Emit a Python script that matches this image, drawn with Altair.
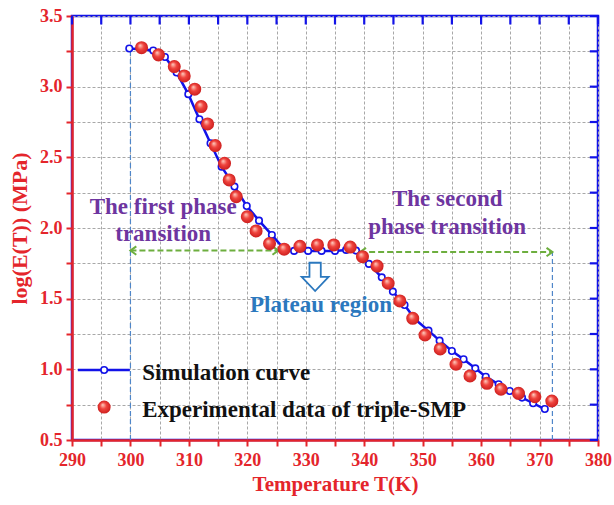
import altair as alt
import pandas as pd

# ---------------- data ----------------
sim_T = [299.8, 301.8, 303.9, 305.9, 307.9, 309.9, 311.8, 313.7, 315.6, 317.8,
         319.9, 322.0, 324.2, 326.1, 328.0, 330.4, 332.7, 335.0, 336.9, 338.6,
         340.8, 343.0, 344.9, 346.9, 348.7, 351.0, 352.9, 355.0, 357.0, 359.0,
         360.8, 363.0, 364.9, 367.0, 368.9, 370.9]
sim_v = [3.27, 3.265, 3.256, 3.21, 3.10, 2.947, 2.77, 2.60, 2.434, 2.293,
         2.156, 2.052, 1.951, 1.86, 1.838, 1.838, 1.838, 1.838, 1.845, 1.84,
         1.746, 1.651, 1.55, 1.455, 1.354, 1.274, 1.203, 1.13, 1.071, 1.007,
         0.948, 0.894, 0.847, 0.80, 0.76, 0.719]

exp_T = [301.9, 304.8, 307.5, 309.2, 311.0, 312.1, 313.2, 314.5, 316.1, 316.9,
         318.1, 320.0, 321.5, 323.8, 326.3, 329.0, 332.0, 334.8, 337.6, 339.7,
         342.2, 344.1, 346.1, 348.3, 350.4, 353.0, 355.7, 358.1, 361.0, 363.4,
         366.4, 369.2, 372.1]
exp_v = [3.276, 3.225, 3.142, 3.076, 2.982, 2.859, 2.736, 2.583, 2.458, 2.34,
         2.222, 2.08, 1.979, 1.89, 1.85, 1.87, 1.88, 1.88, 1.865, 1.797,
         1.731, 1.609, 1.484, 1.361, 1.243, 1.144, 1.036, 0.953, 0.901, 0.859,
         0.83, 0.806, 0.776]

x_ticks = [290, 295, 300, 305, 310, 315, 320, 325, 330, 335, 340, 345, 350,
           355, 360, 365, 370, 375, 380]
y_ticks = [0.5, 0.75, 1.0, 1.25, 1.5, 1.75, 2.0, 2.25, 2.5, 2.75, 3.0, 3.25, 3.5]

# annotation anchors (data units)
vline_T = [300.0, 372.2]
vline_top = [3.27, 1.83]
arrow_from = [300.0, 339.3]
arrow_to = [325.3, 372.2]
arrow_v = [1.84, 1.83]

labels_text = ["The first phase", "transition", "The second", "phase transition"]
labels_T = [305.6, 305.6, 354.2, 354.2]
labels_v = [2.149, 1.958, 2.206, 2.007]

plateau_text = ["Plateau region"]
plateau_T = [332.6]
plateau_v = [1.455]
plateau_arrow_T = [331.6]
plateau_arrow_v = [1.654]

legend_names = ["Simulation curve", "Experimental data of triple-SMP"]
legend_text_T = [302.0, 302.0]
legend_text_v = [0.974, 0.712]
legend_line_T = [291.0, 299.9]
legend_line_v = 0.995
legend_sym_T = 295.5
legend_dot_v = 0.733

# inner tick length of the blue frame (data units)
frame_tick_v = [3.5, 3.44]
frame_tick_T = [380.0, 378.6]

# ---------------- style ----------------
RED = "#E4252B"
BLUE = "#1212E8"
PURPLE = "#6E35A0"
SKY = "#2B78BE"
GREEN = "#6DAE3E"
DASHBLUE = "#4F86C9"
GRID = "#A8A8A8"
FONT = "Liberation Serif"
W, H = 526, 424


def xscale():
    return alt.Scale(domain=[290, 380], nice=False, zero=False)


def yscale():
    return alt.Scale(domain=[0.5, 3.5], nice=False, zero=False)


def X(f, axis=None):
    return alt.X(f, type="quantitative", scale=xscale(), axis=axis)


def Y(f, axis=None):
    return alt.Y(f, type="quantitative", scale=yscale(), axis=axis)


sim = pd.DataFrame({"T": sim_T, "v": sim_v})
exp = pd.DataFrame({"T": exp_T, "v": exp_v})

x_axis = alt.Axis(
    values=x_ticks, labelExpr="datum.value % 10 === 0 ? datum.label : ''",
    title="Temperature T(K)", domainColor=RED, domainWidth=2.5, tickColor=RED,
    tickWidth=2, tickSize=6, labelColor=RED, labelFont=FONT, labelFontSize=18,
    labelFontWeight="bold", labelPadding=5, titleColor=RED, titleFont=FONT,
    titleFontSize=21, titleFontWeight="bold", titlePadding=4, grid=True,
    gridColor=GRID, gridDash=[3, 2], gridWidth=1, labelFlush=False)
y_axis = alt.Axis(
    values=y_ticks,
    labelExpr="(datum.value * 2) % 1 === 0 ? format(datum.value, '.1f') : ''",
    title="log(E(T)) (MPa)", domainColor=RED, domainWidth=2.5, tickColor=RED,
    tickWidth=2, tickSize=6, labelColor=RED, labelFont=FONT, labelFontSize=18,
    labelFontWeight="bold", labelPadding=4, titleColor=RED, titleFont=FONT,
    titleFontSize=22, titleFontWeight="bold", titlePadding=8, grid=True,
    gridColor=GRID, gridDash=[3, 2], gridWidth=1, labelFlush=False)

# blue inward frame ticks on top and right edges
tt = pd.DataFrame({"pos": x_ticks,
                   "y_a": [frame_tick_v[0]] * len(x_ticks),
                   "y_b": [frame_tick_v[1]] * len(x_ticks)})
top_ticks = alt.Chart(tt).mark_rule(color=BLUE, strokeWidth=2.2,
                                    opacity=1).encode(
    x=X("pos"), y=Y("y_a"), y2="y_b")
rt = pd.DataFrame({"pos": y_ticks,
                   "x_a": [frame_tick_T[0]] * len(y_ticks),
                   "x_b": [frame_tick_T[1]] * len(y_ticks)})
right_ticks = alt.Chart(rt).mark_rule(color=BLUE, strokeWidth=2.2,
                                      opacity=1).encode(
    y=Y("pos"), x=X("x_a"), x2="x_b")

# blue dashed verticals
vl = pd.DataFrame({"T": vline_T, "top": vline_top, "bot": [0.5, 0.5]})
vlines = alt.Chart(vl).mark_rule(color=DASHBLUE, strokeWidth=1.2,
                                 strokeDash=[5, 3]).encode(
    x=X("T"), y=Y("bot"), y2="top")

# green arrows
ar = pd.DataFrame({"a": arrow_from, "b": arrow_to, "v": arrow_v})
arrows = alt.Chart(ar).mark_rule(color=GREEN, strokeWidth=2,
                                 strokeDash=[6, 3]).encode(
    x=X("a"), x2="b", y=Y("v"))
heads = pd.DataFrame({
    "T": arrow_from + arrow_to,
    "v": arrow_v + arrow_v,
    "dir": ["left", "left", "right", "right"]})
arrowheads = alt.Chart(heads).mark_point(filled=False, color=GREEN,
                                         strokeWidth=2, size=70, opacity=1).encode(
    x=X("T"), y=Y("v"),
    shape=alt.Shape("dir:N", legend=None, scale=alt.Scale(
        domain=["left", "right"],
        range=["M 1.4 -1 L 0 0 L 1.4 1", "M -1.4 -1 L 0 0 L -1.4 1"])))

# simulation curve
sim_line = alt.Chart(sim).mark_line(color=BLUE, strokeWidth=2.5).encode(
    x=X("T", x_axis), y=Y("v", y_axis))
sim_pts = alt.Chart(sim).mark_point(shape="circle", filled=True, fill="white",
                                    stroke=BLUE, strokeWidth=1.6, size=42,
                                    opacity=1).encode(x=X("T"), y=Y("v"))

# experimental dots (shaded spheres)
grad = alt.RadialGradient(
    gradient="radial",
    stops=[alt.GradientStop(color="#FFD2C4", offset=0),
           alt.GradientStop(color="#F0443E", offset=0.45),
           alt.GradientStop(color="#C81A1A", offset=1)],
    x1=0.38, y1=0.32, r1=0, x2=0.5, y2=0.5, r2=0.55)
exp_pts = alt.Chart(exp).mark_circle(fill=grad, size=170, opacity=1).encode(
    x=X("T"), y=Y("v"))

# texts
lab = pd.DataFrame({"T": labels_T, "v": labels_v, "t": labels_text})
phase_text = alt.Chart(lab).mark_text(font=FONT, fontSize=23, fontWeight="bold",
                                      color=PURPLE, align="center",
                                      baseline="middle").encode(
    x=X("T"), y=Y("v"), text="t:N")

pl = pd.DataFrame({"T": plateau_T, "v": plateau_v, "t": plateau_text})
plateau = alt.Chart(pl).mark_text(font=FONT, fontSize=23, fontWeight="bold",
                                  color=SKY, align="center",
                                  baseline="middle").encode(
    x=X("T"), y=Y("v"), text="t:N")
pa = pd.DataFrame({"T": plateau_arrow_T, "v": plateau_arrow_v})
plateau_arrow = alt.Chart(pa).mark_point(
    shape="M -0.4 -1 L 0.4 -1 L 0.4 0 L 0.95 0 L 0 1 L -0.95 0 L -0.4 0 Z",
    filled=True, fill="white", stroke=SKY, strokeWidth=1.8, size=800,
    opacity=1).encode(x=X("T"), y=Y("v"))

# manual legend
lg_line = pd.DataFrame({"a": [legend_line_T[0]], "b": [legend_line_T[1]],
                        "v": [legend_line_v]})
leg_line = alt.Chart(lg_line).mark_rule(color=BLUE, strokeWidth=2.5).encode(
    x=X("a"), x2="b", y=Y("v"))
leg_circ = alt.Chart(pd.DataFrame({"T": [legend_sym_T], "v": [legend_line_v]})
                     ).mark_point(shape="circle", filled=True, fill="white",
                                  stroke=BLUE, strokeWidth=1.6, size=42,
                                  opacity=1).encode(x=X("T"), y=Y("v"))
leg_dot = alt.Chart(pd.DataFrame({"T": [legend_sym_T], "v": [legend_dot_v]})
                    ).mark_circle(fill=grad, size=170, opacity=1).encode(
    x=X("T"), y=Y("v"))
lt = pd.DataFrame({"T": legend_text_T, "v": legend_text_v, "t": legend_names})
leg_text = alt.Chart(lt).mark_text(font=FONT, fontSize=23, fontWeight="bold",
                                   color="#111111", align="left",
                                   baseline="middle").encode(
    x=X("T"), y=Y("v"), text="t:N")

chart = alt.layer(
    sim_line, top_ticks, right_ticks, vlines, arrows, arrowheads, sim_pts,
    exp_pts, phase_text, plateau_arrow, plateau, leg_line, leg_circ, leg_dot,
    leg_text
).resolve_scale(
    x="independent", y="independent"
).resolve_axis(x="independent", y="independent").properties(
    width=W, height=H,
    padding={"left": 72, "top": 16, "right": 16, "bottom": 65},
    autosize=alt.AutoSizeParams(type="none"),
    background="white",
).configure_view(stroke=BLUE, strokeWidth=2.5)

chart.save("out.html", embed_options={"renderer": "svg", "actions": False})
